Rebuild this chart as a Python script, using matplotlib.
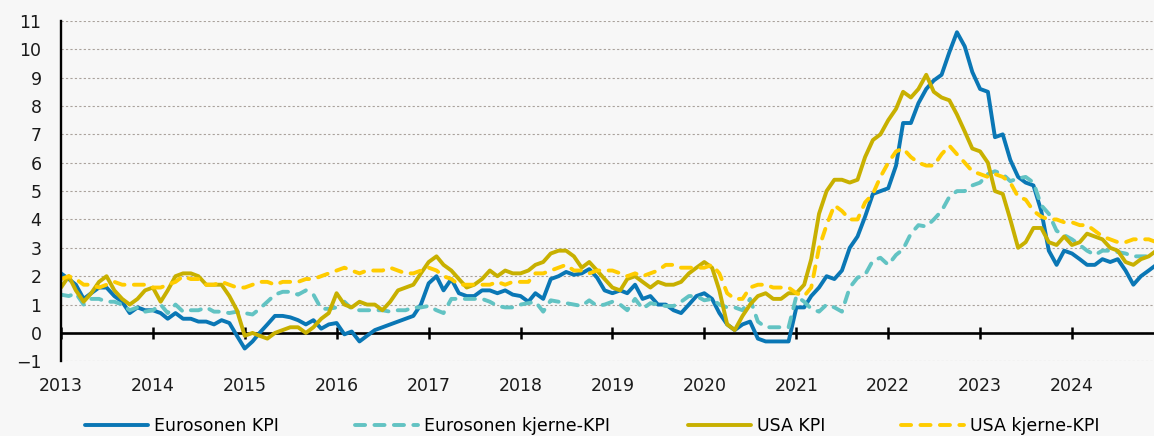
import pandas as pd
import numpy as np
import matplotlib
matplotlib.use('Agg')
import matplotlib.pyplot as plt
import matplotlib.dates as mdates

# månedlige tall, jan 2013 - des 2024 (årlig vekst, prosent)
maaneder = pd.date_range('2013-01-01', periods=144, freq='MS')

euro_kpi = [
    2.1, 1.9, 1.7, 1.2, 1.4, 1.6, 1.6, 1.3, 1.1, 0.7, 0.9, 0.8,
    0.8, 0.7, 0.5, 0.7, 0.5, 0.5, 0.4, 0.4, 0.3, 0.45, 0.35, -0.1,
    -0.55, -0.3, 0.0, 0.3, 0.6, 0.6, 0.55, 0.45, 0.3, 0.45, 0.15, 0.3,
    0.35, -0.05, 0.05, -0.3, -0.1, 0.1, 0.2, 0.3, 0.4, 0.5, 0.6, 1.0,
    1.75, 2.0, 1.5, 1.9, 1.4, 1.3, 1.3, 1.5, 1.5, 1.4, 1.5, 1.35,
    1.3, 1.1, 1.4, 1.2, 1.9, 2.0, 2.15, 2.05, 2.1, 2.25, 1.95, 1.5,
    1.4, 1.5, 1.4, 1.7, 1.2, 1.3, 1.0, 1.0, 0.8, 0.7, 1.0, 1.3,
    1.4, 1.2, 0.7, 0.3, 0.1, 0.3, 0.4, -0.2, -0.3, -0.3, -0.3, -0.3,
    0.9, 0.9, 1.3, 1.6, 2.0, 1.9, 2.2, 3.0, 3.4, 4.1, 4.9, 5.0,
    5.1, 5.9, 7.4, 7.4, 8.1, 8.6, 8.9, 9.1, 9.9, 10.6, 10.1, 9.2,
    8.6, 8.5, 6.9, 7.0, 6.1, 5.5, 5.3, 5.2, 4.3, 2.9, 2.4, 2.9,
    2.8, 2.6, 2.4, 2.4, 2.6, 2.5, 2.6, 2.2, 1.7, 2.0, 2.2, 2.4,
]

euro_kjerne = [
    1.35, 1.3, 1.4, 1.0, 1.2, 1.2, 1.1, 1.1, 1.0, 0.8, 0.9, 0.75,
    0.8, 1.0, 0.7, 1.0, 0.75, 0.8, 0.8, 0.9, 0.75, 0.75, 0.7, 0.75,
    0.7, 0.65, 0.85, 1.1, 1.35, 1.45, 1.45, 1.35, 1.5, 1.35, 0.85, 0.85,
    0.9, 1.1, 0.85, 0.8, 0.8, 0.8, 0.8, 0.75, 0.8, 0.8, 0.9, 0.9,
    0.95, 0.8, 0.7, 1.2, 1.2, 1.2, 1.2, 1.2, 1.1, 0.95, 0.9, 0.9,
    1.0, 1.05, 1.1, 0.75, 1.15, 1.1, 1.05, 1.0, 0.95, 1.15, 0.95, 1.0,
    1.1, 1.0, 0.8, 1.2, 0.85, 1.05, 1.0, 0.95, 0.95, 1.1, 1.3, 1.3,
    1.15, 1.2, 1.0, 0.9, 0.9, 0.8, 1.2, 0.4, 0.2, 0.2, 0.2, 0.2,
    1.3, 1.1, 0.85, 0.75, 1.0, 0.9, 0.75, 1.6, 1.95, 2.05, 2.55, 2.65,
    2.4, 2.75, 2.95, 3.5, 3.8, 3.75, 4.0, 4.3, 4.8, 5.0, 5.0, 5.2,
    5.3, 5.6, 5.7, 5.6, 5.35, 5.45, 5.5, 5.3, 4.5, 4.2, 3.6, 3.45,
    3.3, 3.1, 2.9, 2.75, 2.9, 2.9, 2.85, 2.8, 2.7, 2.7, 2.7, 2.7,
]

usa_kpi = [
    1.6, 2.0, 1.5, 1.1, 1.4, 1.8, 2.0, 1.5, 1.2, 1.0, 1.2, 1.5,
    1.6, 1.1, 1.5, 2.0, 2.1, 2.1, 2.0, 1.7, 1.7, 1.7, 1.3, 0.8,
    -0.1, 0.0, -0.1, -0.2, 0.0, 0.1, 0.2, 0.2, 0.0, 0.2, 0.5, 0.7,
    1.4, 1.0, 0.9, 1.1, 1.0, 1.0, 0.8, 1.1, 1.5, 1.6, 1.7, 2.1,
    2.5, 2.7, 2.4, 2.2, 1.9, 1.6, 1.7, 1.9, 2.2, 2.0, 2.2, 2.1,
    2.1, 2.2, 2.4, 2.5, 2.8, 2.9, 2.9, 2.7, 2.3, 2.5, 2.2, 1.9,
    1.6, 1.5, 1.9, 2.0, 1.8, 1.6, 1.8, 1.7, 1.7, 1.8, 2.1, 2.3,
    2.5, 2.3, 1.5, 0.3, 0.1, 0.6, 1.0, 1.3, 1.4, 1.2, 1.2, 1.4,
    1.4, 1.7, 2.6, 4.2, 5.0, 5.4, 5.4, 5.3, 5.4, 6.2, 6.8, 7.0,
    7.5, 7.9, 8.5, 8.3, 8.6, 9.1, 8.5, 8.3, 8.2, 7.7, 7.1, 6.5,
    6.4, 6.0, 5.0, 4.9, 4.0, 3.0, 3.2, 3.7, 3.7, 3.2, 3.1, 3.4,
    3.1, 3.2, 3.5, 3.4, 3.3, 3.0, 2.9, 2.5, 2.4, 2.6, 2.7, 2.9,
]

usa_kjerne = [
    1.9, 2.0, 1.9, 1.7, 1.7, 1.6, 1.7, 1.8, 1.7, 1.7, 1.7, 1.7,
    1.6, 1.6, 1.7, 1.8, 2.0, 1.9, 1.9, 1.7, 1.7, 1.8, 1.7, 1.6,
    1.6, 1.7, 1.8, 1.8, 1.7, 1.8, 1.8, 1.8, 1.9, 1.9, 2.0, 2.1,
    2.2, 2.3, 2.2, 2.1, 2.2, 2.2, 2.2, 2.3, 2.2, 2.1, 2.1, 2.2,
    2.3, 2.2, 2.0, 1.9, 1.7, 1.7, 1.7, 1.7, 1.7, 1.8, 1.7, 1.8,
    1.8, 1.8, 2.1, 2.1, 2.2, 2.3, 2.4, 2.2, 2.2, 2.1, 2.2, 2.2,
    2.2, 2.1, 2.0, 2.1, 2.0, 2.1, 2.2, 2.4, 2.4, 2.3, 2.3, 2.3,
    2.3, 2.4, 2.1, 1.4, 1.2, 1.2, 1.6, 1.7, 1.7, 1.6, 1.6, 1.6,
    1.4, 1.3, 1.6, 3.0, 3.8, 4.5, 4.3, 4.0, 4.0, 4.6, 4.9, 5.5,
    6.0, 6.4, 6.5, 6.2, 6.0, 5.9, 5.9, 6.3, 6.6, 6.3, 6.0, 5.7,
    5.6, 5.5, 5.6, 5.5, 5.3, 4.8, 4.7, 4.3, 4.1, 4.0, 4.0, 3.9,
    3.9, 3.8, 3.8, 3.6, 3.4, 3.3, 3.2, 3.2, 3.3, 3.3, 3.3, 3.2,
]

serier = [
    ('Eurosonen KPI', euro_kpi, '#0a77b5', '-'),
    ('Eurosonen kjerne-KPI', euro_kjerne, '#62c3c3', '--'),
    ('USA KPI', usa_kpi, '#c8b000', '-'),
    ('USA kjerne-KPI', usa_kjerne, '#ffcc00', '--'),
]

bakgrunn = '#f7f7f7'
W, H = 1154, 436
fig = plt.figure(figsize=(W / 100, H / 100), dpi=100, facecolor=bakgrunn)
ax = fig.add_axes([61 / W, 1 - 361.3 / H, 1 - 61 / W, (361.3 - 20.9) / H])
ax.set_facecolor(bakgrunn)

linjer = []
for navn, verdier, farge, stil in serier:
    l, = ax.plot(maaneder, verdier, color=farge, lw=2.8, label=navn,
                 solid_joinstyle='round', solid_capstyle='round',
                 dash_capstyle='round', dash_joinstyle='round')
    if stil == '--':
        l.set_dashes((2.6, 2.4))
    linjer.append(l)

ax.set_ylim(-1, 11)
ax.set_yticks(range(-1, 12))
ax.set_xlim(pd.Timestamp('2013-01-01'), pd.Timestamp('2024-11-22'))
ax.xaxis.set_major_locator(mdates.YearLocator())
ax.xaxis.set_major_formatter(mdates.DateFormatter('%Y'))

ax.grid(axis='y', color='#aaa29c', lw=0.8, ls=(0, (2, 2)))
ax.set_axisbelow(True)

for s in ['top', 'right']:
    ax.spines[s].set_visible(False)
ax.spines['bottom'].set_position(('data', 0))
ax.spines['bottom'].set_linewidth(1.9)
ax.spines['left'].set_linewidth(1.7)
ax.spines['bottom'].set_zorder(1.5)

ax.tick_params(axis='y', length=0, pad=14, labelsize=12.5, labelcolor='#1a1a1a')
ax.tick_params(axis='x', direction='inout', length=8.5, width=1.8, pad=27.5,
               labelsize=12.5, labelcolor='#1a1a1a')

# forklaring nederst, hver serie plassert for seg
starter = [85, 355, 688, 901]
for l, x0 in zip(linjer, starter):
    fig.legend(handles=[l], loc='center left', bbox_to_anchor=(x0 / W, 1 - 426 / H),
               frameon=False, fontsize=12.5, handlelength=3.6, handletextpad=0.4,
               borderpad=0, borderaxespad=0)

fig.savefig('out.png', dpi=100, facecolor=bakgrunn)
